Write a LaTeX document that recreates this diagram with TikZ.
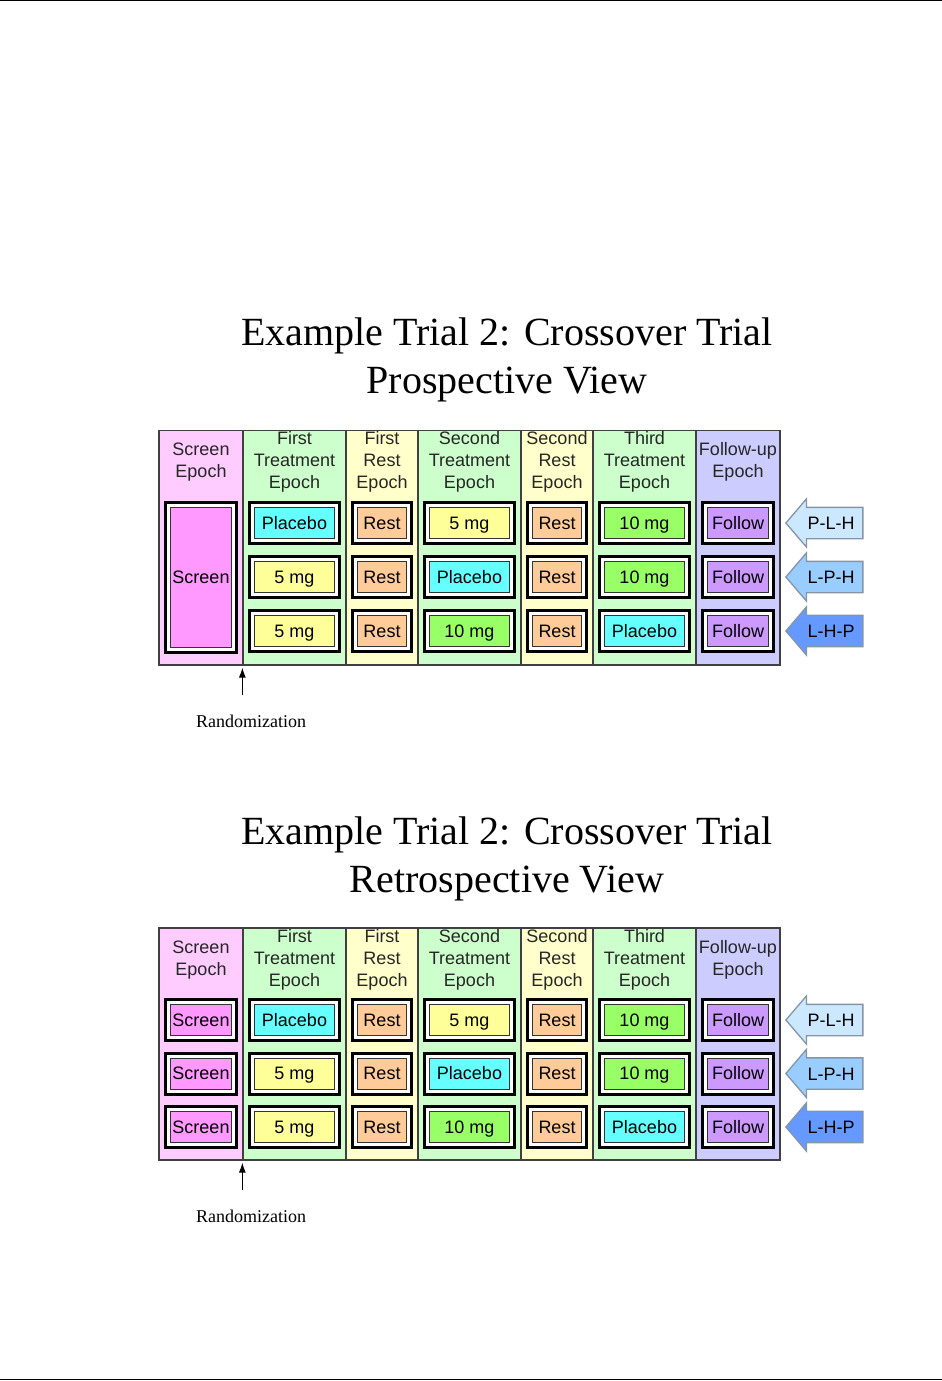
\documentclass[tikz,border=0pt]{standalone}
\usepackage{fontspec}
\setmainfont{Liberation Serif}
\setsansfont{Liberation Sans}
\usetikzlibrary{shapes.arrows, arrows.meta, positioning}

% epoch backgrounds
\definecolor{screenbg}{HTML}{FFCCFF}
\definecolor{treatbg}{HTML}{CCFFCC}
\definecolor{restbg}{HTML}{FFFFCC}
\definecolor{followbg}{HTML}{CCCCFF}
% cell fills
\definecolor{screen}{HTML}{FF99FF}
\definecolor{placebo}{HTML}{66FFFF}
\definecolor{five}{HTML}{FFFF99}
\definecolor{ten}{HTML}{99FF66}
\definecolor{rest}{HTML}{FFCC99}
\definecolor{follow}{HTML}{CC99FF}
% sequence arrows
\definecolor{plh}{HTML}{CCE8FF}
\definecolor{lph}{HTML}{99CCFF}
\definecolor{lhp}{HTML}{6699FF}
\definecolor{seqline}{HTML}{8595A6}

\newcommand\cellfont{\sffamily\fontsize{18}{22}\selectfont}
% epoch column centres and widths
\def\epochx{{201,294.5,382,469.5,557,644.5,738}}
\def\epochw{{84,103,72,103,72,103,84}}

\tikzset{
  epoch/.style={draw=black!75, line width=1.3pt, inner sep=0pt},
  head/.style={font=\cellfont, align=center, text=black!85, inner sep=0pt},
  frame/.style={draw=black, line width=3pt, fill=white, inner sep=0pt, minimum height=41pt},
  dose/.style={draw=black!80, line width=0.9pt, fill=#1, inner sep=0pt, minimum height=31pt,
    font=\cellfont, text height=12.8pt, text depth=0pt},
  seq/.style={single arrow, shape border rotate=180, draw=seqline, line width=1.3pt, fill=#1,
    font=\cellfont, text height=15pt, text depth=2pt, inner ysep=6.5pt, inner xsep=2pt,
    minimum height=77pt, single arrow head extend=8.5pt, single arrow tip angle=99},
  title/.style={font=\fontsize{40}{48}\selectfont, align=center},
  rnd/.style={font=\fontsize{18}{22}\selectfont, inner sep=0pt}
}

\begin{document}
\begin{tikzpicture}[x=1pt, y=-1pt]
\useasboundingbox (0,0) rectangle (942,1381);

% page rules
\draw[line width=1.5pt] (0,0.75) -- (942,0.75);
\draw[line width=1.5pt] (0,1379.6) -- (942,1379.6);

% two panels: prospective (P) and retrospective (R)
\foreach \p/\ftop/\fbot/\hy/\ry/\dr/\ty/\vtxt in
  {P/430.5/665/462/523/54/360/Prospective, R/928/1160/960/1020/53.5/859/Retrospective}{
  \pgfmathsetmacro\fy{(\ftop+\fbot)/2}
  \pgfmathsetmacro\fh{\fbot-\ftop}

  % title
  \node[title] (\p title) at (507,\ty) {Example Trial 2: Crossover Trial\\\vtxt\ View};

  % epoch columns with headers
  \foreach \i/\cx/\w/\bg/\txt in {1/201/84/screenbg/{Screen\\Epoch},
      2/294.5/103/treatbg/{First\\Treatment\\Epoch}, 3/382/72/restbg/{First\\Rest\\Epoch},
      4/469.5/103/treatbg/{Second\\Treatment\\Epoch}, 5/557/72/restbg/{Second\\Rest\\Epoch},
      6/644.5/103/treatbg/{Third\\Treatment\\Epoch}, 7/738/84/followbg/{Follow-up\\Epoch}}{
    \node[epoch, fill=\bg, minimum width=\w, minimum height=\fh] (\p c\i) at (\cx,\fy) {};
    \node[head] (\p h\i) at (\cx,\hy) {\txt};
  }

  % treatment, rest and follow-up cells
  \foreach \r/\cells in {1/{Placebo/placebo,Rest/rest,5 mg/five,Rest/rest,10 mg/ten,Follow/follow},
      2/{5 mg/five,Rest/rest,Placebo/placebo,Rest/rest,10 mg/ten,Follow/follow},
      3/{5 mg/five,Rest/rest,10 mg/ten,Rest/rest,Placebo/placebo,Follow/follow}}{
    \pgfmathsetmacro\cy{\ry+(\r-1)*\dr}
    \foreach \t/\k [count=\i from 2] in \cells {
      \pgfmathsetmacro\cx{\epochx[\i-1]}
      \pgfmathsetmacro\w{\epochw[\i-1]}
      \node[frame, minimum width=\w-13] (\p f-\r-\i) at (\cx,\cy) {};
      \node[dose=\k, minimum width=\w-23] (\p-\r-\i) at (\p f-\r-\i) {\t};
    }
  }

  % sequence arrows
  \foreach \r/\sq/\bg in {1/P-L-H/plh, 2/L-P-H/lph, 3/L-H-P/lhp}{
    \pgfmathsetmacro\cy{\ry+(\r-1)*\dr}
    \node[seq=\bg, anchor=tip] (\p s\r) at (785,\cy) {\sq};
  }

  % randomization marker
  \node[rnd] (\p rnd) at (251,\fbot+56) {Randomization};
  \coordinate (\p rs) at ([yshift=-29pt]\p c2.south west);
  \coordinate (\p rt) at ([yshift=-2pt]\p c2.south west);
  \draw[line width=1pt, -{Latex[length=10pt, width=7pt]}] (\p rs) -- (\p rt);
}

% screen epoch: one long box (prospective)
\node[frame, minimum width=71, minimum height=150] (Pf-s) at (201,577.5) {};
\node[dose=screen, minimum width=61, minimum height=139.5] (P-s) at (Pf-s) {Screen};

% screen epoch: one box per row (retrospective)
\foreach \r/\cy in {1/1020, 2/1073.5, 3/1127}{
  \node[frame, minimum width=71] (Rf-\r-1) at (201,\cy) {};
  \node[dose=screen, minimum width=61] (R-\r-1) at (Rf-\r-1) {Screen};
}
\end{tikzpicture}
\end{document}
